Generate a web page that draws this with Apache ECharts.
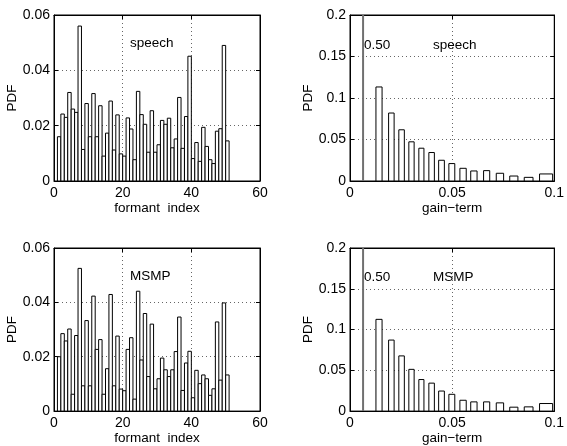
<!DOCTYPE html>
<html>
<head>
<meta charset="utf-8">
<script src="https://cdn.jsdelivr.net/npm/echarts@6/dist/echarts.min.js"></script>
<style>
  html, body { margin: 0; padding: 0; background: #fff; }
  #chart { width: 567px; height: 446px; }
</style>
</head>
<body>
<div id="chart"></div>
<script>
// formant histogram bins (left edge of each unit-wide bin)
const formantIndex = [1, 2, 3, 4, 5, 6, 7, 8, 9, 10, 11, 12, 13, 14, 15, 16, 17, 18, 19, 20,
  21, 22, 23, 24, 25, 26, 27, 28, 29, 30, 31, 32, 33, 34, 35, 36, 37, 38, 39, 40,
  41, 42, 43, 44, 45, 46, 47, 48, 49, 50]

const speechFormant = [0.016, 0.0242, 0.023, 0.032, 0.026, 0.0248, 0.056, 0.0114, 0.028, 0.016,
  0.0316, 0.016, 0.0272, 0.009, 0.0173, 0.0289, 0.0112, 0.0239, 0.0098, 0.009,
  0.0228, 0.0188, 0.0077, 0.0324, 0.024, 0.0205, 0.0104, 0.0254, 0.0104, 0.0131,
  0.0219, 0.0205, 0.0227, 0.012, 0.0152, 0.0302, 0.0118, 0.0233, 0.0451, 0.0081,
  0.0139, 0.0071, 0.0194, 0.0125, 0.0077, 0.0063, 0.018, 0.0189, 0.049, 0.0145]

const msmpFormant = [0.02, 0.0285, 0.0258, 0.0302, 0.0062, 0.0278, 0.0525, 0.0093, 0.0333, 0.0093,
  0.0423, 0.0227, 0.0263, 0.0062, 0.0156, 0.0429, 0.0093, 0.0276, 0.0081, 0.0075,
  0.0227, 0.027, 0.0044, 0.0441, 0.0188, 0.0359, 0.0127, 0.032, 0.0082, 0.0119,
  0.0195, 0.0152, 0.0127, 0.0152, 0.0219, 0.0346, 0.0076, 0.0177, 0.022, 0.0049,
  0.015, 0.0101, 0.0133, 0.0119, 0.0058, 0.0082, 0.0328, 0.0114, 0.0398, 0.0133]

// gain-term histogram bins
const gainLo = [0.0127, 0.0189, 0.0239, 0.0288, 0.0337, 0.0386, 0.0434, 0.0484,
  0.0538, 0.0591, 0.0654, 0.0716, 0.0782, 0.0853, 0.0928]
const gainHi = [0.0157, 0.0216, 0.0266, 0.0314, 0.0362, 0.0413, 0.0462, 0.0513,
  0.0569, 0.0622, 0.0684, 0.0752, 0.0822, 0.0896, 0.0992]

const speechGain = [0.1133, 0.0819, 0.0617, 0.0472, 0.0395, 0.0343, 0.025, 0.021,
  0.0153, 0.0121, 0.0125, 0.0093, 0.006, 0.0044, 0.0085]
const msmpGain = [0.1125, 0.0871, 0.0677, 0.0512, 0.0387, 0.0343, 0.0246, 0.0206,
  0.0133, 0.0113, 0.0113, 0.0101, 0.0048, 0.0052, 0.0093]

// mass at (near) zero gain, off the scale
const zeroGainPos = 0.0064
const zeroGainMass = 0.5

const fontFamily = '"Liberation Sans", Arial, sans-serif'

const chart = echarts.init(document.getElementById('chart'), null, { renderer: 'canvas' })

const grids = [
  { left: 54, top: 15, width: 206, height: 166 },
  { left: 54, top: 248, width: 206, height: 165 },
  { left: 350, top: 15, width: 208, height: 166 },
  { left: 350, top: 248, width: 208, height: 165 }
].map(g => Object.assign(g, { show: true, borderColor: '#000', borderWidth: 1, backgroundColor: '#fff' }))

function tickStyle() {
  return { show: true, inside: true, length: 4, lineStyle: { color: '#000', width: 1 } }
}

function makeX(gridIndex, max, interval, name) {
  return [{
    gridIndex: gridIndex,
    type: 'value',
    min: 0,
    max: max,
    interval: interval,
    position: 'bottom',
    name: name,
    nameLocation: 'middle',
    nameGap: 18,
    nameTextStyle: { color: '#000', fontSize: 13.5, fontFamily: fontFamily },
    axisLine: { show: true, onZero: false, lineStyle: { color: '#000', width: 1 } },
    axisTick: tickStyle(),
    axisLabel: { color: '#000', fontSize: 14, margin: 5, fontFamily: fontFamily },
    splitLine: { show: true, lineStyle: { color: '#666', width: 1, type: [1, 3] } }
  }, {
    gridIndex: gridIndex,
    type: 'value',
    min: 0,
    max: max,
    interval: interval,
    position: 'top',
    axisLine: { show: true, onZero: false, lineStyle: { color: '#000', width: 1 } },
    axisTick: tickStyle(),
    axisLabel: { show: false },
    splitLine: { show: false }
  }]
}

function makeY(gridIndex, max, interval) {
  return [{
    gridIndex: gridIndex,
    type: 'value',
    min: 0,
    max: max,
    interval: interval,
    position: 'left',
    name: 'PDF',
    nameLocation: 'middle',
    nameGap: 33,
    nameTextStyle: { color: '#000', fontSize: 13.5, fontFamily: fontFamily },
    axisLine: { show: true, onZero: false, lineStyle: { color: '#000', width: 1 } },
    axisTick: tickStyle(),
    axisLabel: { color: '#000', fontSize: 14, margin: 4, fontFamily: fontFamily },
    splitLine: { show: true, lineStyle: { color: '#666', width: 1, type: [1, 3] } }
  }, {
    gridIndex: gridIndex,
    type: 'value',
    min: 0,
    max: max,
    interval: interval,
    position: 'right',
    axisLine: { show: true, onZero: false, lineStyle: { color: '#000', width: 1 } },
    axisTick: tickStyle(),
    axisLabel: { show: false },
    splitLine: { show: false }
  }]
}

const barStyle = { fill: '#fff', stroke: '#000', lineWidth: 1 }

function formantSeries(axisIndex, values) {
  return {
    type: 'custom',
    xAxisIndex: axisIndex,
    yAxisIndex: axisIndex,
    clip: true,
    encode: { x: 0, y: 1 },
    data: formantIndex.map((k, i) => [k, values[i]]),
    renderItem: function (params, api) {
      const k = api.value(0)
      const p0 = api.coord([k, 0])
      const p1 = api.coord([k + 1, api.value(1)])
      return {
        type: 'rect',
        shape: { x: p0[0], y: p1[1], width: p1[0] - p0[0], height: p0[1] - p1[1] },
        style: barStyle
      }
    }
  }
}

function gainSeries(axisIndex, values) {
  return {
    type: 'custom',
    xAxisIndex: axisIndex,
    yAxisIndex: axisIndex,
    clip: true,
    encode: { x: [0, 1], y: 2 },
    data: gainLo.map((lo, i) => [lo, gainHi[i], values[i]]),
    renderItem: function (params, api) {
      const p0 = api.coord([api.value(0), 0])
      const p1 = api.coord([api.value(1), api.value(2)])
      return {
        type: 'rect',
        shape: { x: p0[0], y: p1[1], width: p1[0] - p0[0], height: p0[1] - p1[1] },
        style: barStyle
      }
    }
  }
}

function spikeSeries(axisIndex) {
  return {
    type: 'custom',
    xAxisIndex: axisIndex,
    yAxisIndex: axisIndex,
    clip: true,
    encode: { x: 0, y: 1 },
    data: [[zeroGainPos, zeroGainMass]],
    renderItem: function (params, api) {
      const p0 = api.coord([api.value(0), 0])
      const p1 = api.coord([api.value(0), api.value(1)])
      return {
        type: 'line',
        shape: { x1: p0[0], y1: p0[1], x2: p1[0], y2: p1[1] },
        style: { stroke: '#707070', lineWidth: 2 }
      }
    }
  }
}

function label(x, y, text) {
  return {
    type: 'text',
    x: x,
    y: y,
    z: 100,
    style: { text: text, fill: '#000', fontSize: 13.5, fontFamily: fontFamily, verticalAlign: 'middle' }
  }
}

chart.setOption({
  animation: false,
  backgroundColor: '#fff',
  grid: grids,
  xAxis: [].concat(
    makeX(0, 60, 20, 'formant  index'),
    makeX(1, 60, 20, 'formant  index'),
    makeX(2, 0.1, 0.05, 'gain\u2212term'),
    makeX(3, 0.1, 0.05, 'gain\u2212term')
  ),
  yAxis: [].concat(
    makeY(0, 0.06, 0.02),
    makeY(1, 0.06, 0.02),
    makeY(2, 0.2, 0.05),
    makeY(3, 0.2, 0.05)
  ),
  series: [
    formantSeries(0, speechFormant),
    formantSeries(2, msmpFormant),
    spikeSeries(4),
    gainSeries(4, speechGain),
    spikeSeries(6),
    gainSeries(6, msmpGain)
  ],
  graphic: [
    label(130, 43, 'speech'),
    label(130, 276, 'MSMP'),
    label(364, 45, zeroGainMass.toFixed(2)),
    label(433, 45, 'speech'),
    label(364, 277, zeroGainMass.toFixed(2)),
    label(433, 277, 'MSMP')
  ]
})
</script>
</body>
</html>
